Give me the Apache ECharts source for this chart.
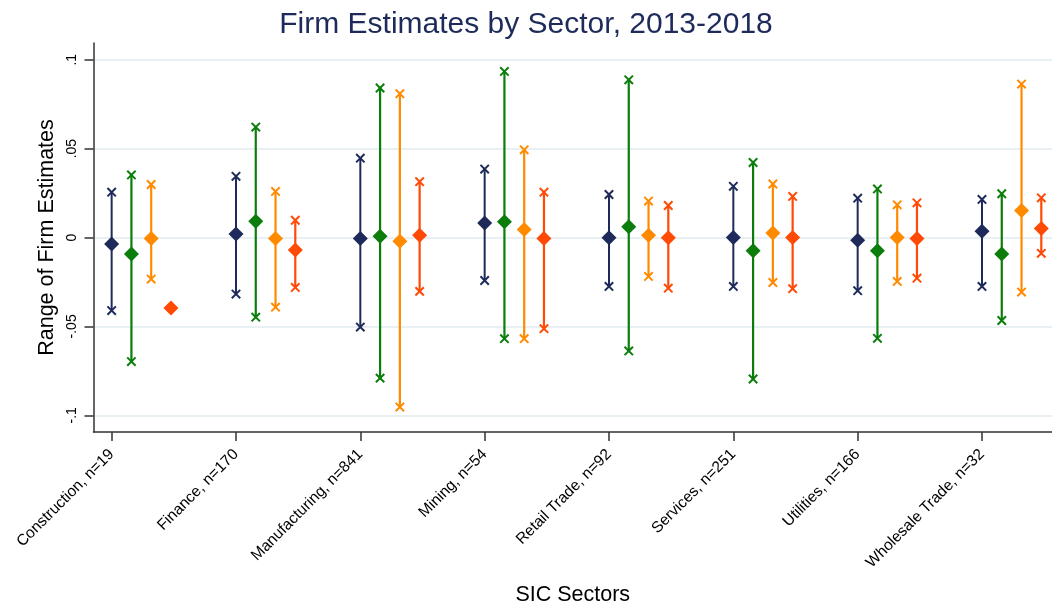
<!DOCTYPE html>
<html>
<head>
<meta charset="utf-8">
<script src="https://cdn.jsdelivr.net/npm/echarts@6/dist/echarts.min.js"></script>
<style>
html,body{margin:0;padding:0;background:#fff;}
#chart{width:1052px;height:611px;}
</style>
</head>
<body>
<div id="chart"></div>
<script>
var categories = ['Construction, n=19','Finance, n=170','Manufacturing, n=841','Mining, n=54','Retail Trade, n=92','Services, n=251','Utilities, n=166','Wholesale Trade, n=32'];

var navyMid  = [-0.0037, 0.0019, -0.0006, 0.0082, -0.0002, 0.0000, -0.0015, 0.0035];
var navyLow  = [-0.0411, -0.0318, -0.0504, -0.0242, -0.0275, -0.0275, -0.0299, -0.0275];
var navyHigh = [0.0255, 0.0344, 0.0446, 0.0385, 0.0242, 0.0288, 0.0221, 0.0214];

var greenMid  = [-0.0093, 0.0091, 0.0007, 0.0088, 0.0060, -0.0074, -0.0074, -0.0093];
var greenLow  = [-0.0698, -0.0448, -0.0791, -0.0569, -0.0638, -0.0796, -0.0567, -0.0467];
var greenHigh = [0.0352, 0.0621, 0.0841, 0.0934, 0.0887, 0.0422, 0.0273, 0.0246];

var orangeMid  = [-0.0006, -0.0006, -0.0021, 0.0045, 0.0013, 0.0026, 0.0000, 0.0152];
var orangeLow  = [-0.0234, -0.0392, -0.0954, -0.0569, -0.0219, -0.0253, -0.0247, -0.0307];
var orangeHigh = [0.0298, 0.0259, 0.0809, 0.0493, 0.0205, 0.0301, 0.0184, 0.0863];

var redMid  = [-0.0396, -0.0071, 0.0013, -0.0006, -0.0002, 0.0000, -0.0006, 0.0050];
var redLow  = [null, -0.0281, -0.0303, -0.0513, -0.0285, -0.0288, -0.0229, -0.0089];
var redHigh = [null, 0.0097, 0.0314, 0.0255, 0.0180, 0.0231, 0.0195, 0.0223];

var yTickValues = [-0.1, -0.05, 0, 0.05, 0.1];
var yTickLabels = ['-.1', '-.05', '0', '.05', '.1'];
var xTickValues = [0, 1, 2, 3, 4, 5, 6, 7];

var FONT = "'Liberation Sans', Arial, Helvetica, sans-serif";
var OFF = 0.159;

function rangeSeries(lows, highs, color, k, lw) {
  var data = [];
  for (var i = 0; i < lows.length; i++) {
    if (lows[i] == null || highs[i] == null) continue;
    data.push([i + k * OFF, lows[i], highs[i]]);
  }
  return {
    type: 'custom',
    z: 2,
    silent: true,
    encode: {x: 0, y: [1, 2]},
    data: data,
    renderItem: function (params, api) {
      var x = api.value(0), lo = api.value(1), hi = api.value(2);
      var p1 = api.coord([x, lo]), p2 = api.coord([x, hi]);
      var s = 4.2;
      function cross(p) {
        return [
          {type: 'line', shape: {x1: p[0] - s, y1: p[1] - s, x2: p[0] + s, y2: p[1] + s}, style: {stroke: color, lineWidth: 2}},
          {type: 'line', shape: {x1: p[0] - s, y1: p[1] + s, x2: p[0] + s, y2: p[1] - s}, style: {stroke: color, lineWidth: 2}}
        ];
      }
      var children = [{type: 'line', shape: {x1: p1[0], y1: p1[1], x2: p2[0], y2: p2[1]}, style: {stroke: color, lineWidth: lw}}]
        .concat(cross(p1)).concat(cross(p2));
      return {type: 'group', children: children};
    }
  };
}

function midSeries(mids, color, k) {
  return {
    type: 'scatter',
    z: 3,
    silent: true,
    symbol: 'diamond',
    symbolSize: 15,
    itemStyle: {color: color, opacity: 1},
    data: mids.map(function (v, i) { return [i + k * OFF, v]; })
  };
}

var colors = ['#1e2b5a', '#0b7d0b', '#ff8a00', '#ff4a05'];

var chart = echarts.init(document.getElementById('chart'), null, {renderer: 'canvas'});
chart.setOption({
  animation: false,
  backgroundColor: '#ffffff',
  title: {
    text: 'Firm Estimates by Sector, 2013-2018',
    left: 'center',
    top: 5,
    textStyle: {fontFamily: FONT, fontSize: 30, fontWeight: 'normal', color: '#1e2b5a'}
  },
  grid: {left: 93.5, right: 0, top: 43, bottom: 176, containLabel: false},
  xAxis: {
    type: 'value',
    min: -0.146,
    max: 7.563,
    name: 'SIC Sectors',
    nameLocation: 'middle',
    nameGap: 152,
    nameTextStyle: {fontFamily: FONT, fontSize: 21.5, color: '#000'},
    axisLine: {show: true, onZero: false, lineStyle: {color: '#333', width: 1.5}},
    axisTick: {show: true, length: 9, lineStyle: {color: '#333', width: 1.5}, customValues: xTickValues},
    axisLabel: {
      show: true, rotate: 45, margin: 20,
      fontFamily: FONT, fontSize: 15.5, color: '#000',
      customValues: xTickValues,
      formatter: function (v) { return categories[Math.round(v)] || ''; }
    },
    splitLine: {show: false}
  },
  yAxis: {
    type: 'value',
    min: -0.1094,
    max: 0.1094,
    name: 'Range of Firm Estimates',
    nameLocation: 'middle',
    nameGap: 33,
    nameTextStyle: {fontFamily: FONT, fontSize: 21.5, color: '#000'},
    axisLine: {show: true, onZero: false, lineStyle: {color: '#333', width: 1.5}},
    axisTick: {show: true, length: 9, lineStyle: {color: '#333', width: 1.5}, customValues: yTickValues},
    axisLabel: {
      show: true, rotate: 90, margin: 14,
      fontFamily: FONT, fontSize: 14, color: '#000',
      customValues: yTickValues,
      formatter: function (v) {
        for (var i = 0; i < yTickValues.length; i++) {
          if (Math.abs(yTickValues[i] - v) < 1e-9) return yTickLabels[i];
        }
        return '';
      }
    },
    splitLine: {show: true, lineStyle: {color: '#e8f0f3', width: 2}}
  },
  series: [
    rangeSeries(navyLow, navyHigh, colors[0], 0, 2),
    rangeSeries(greenLow, greenHigh, colors[1], 1, 2.2),
    rangeSeries(orangeLow, orangeHigh, colors[2], 2, 2.2),
    rangeSeries(redLow, redHigh, colors[3], 3, 2.2),
    midSeries(navyMid, colors[0], 0),
    midSeries(greenMid, colors[1], 1),
    midSeries(orangeMid, colors[2], 2),
    midSeries(redMid, colors[3], 3)
  ]
});
</script>
</body>
</html>
